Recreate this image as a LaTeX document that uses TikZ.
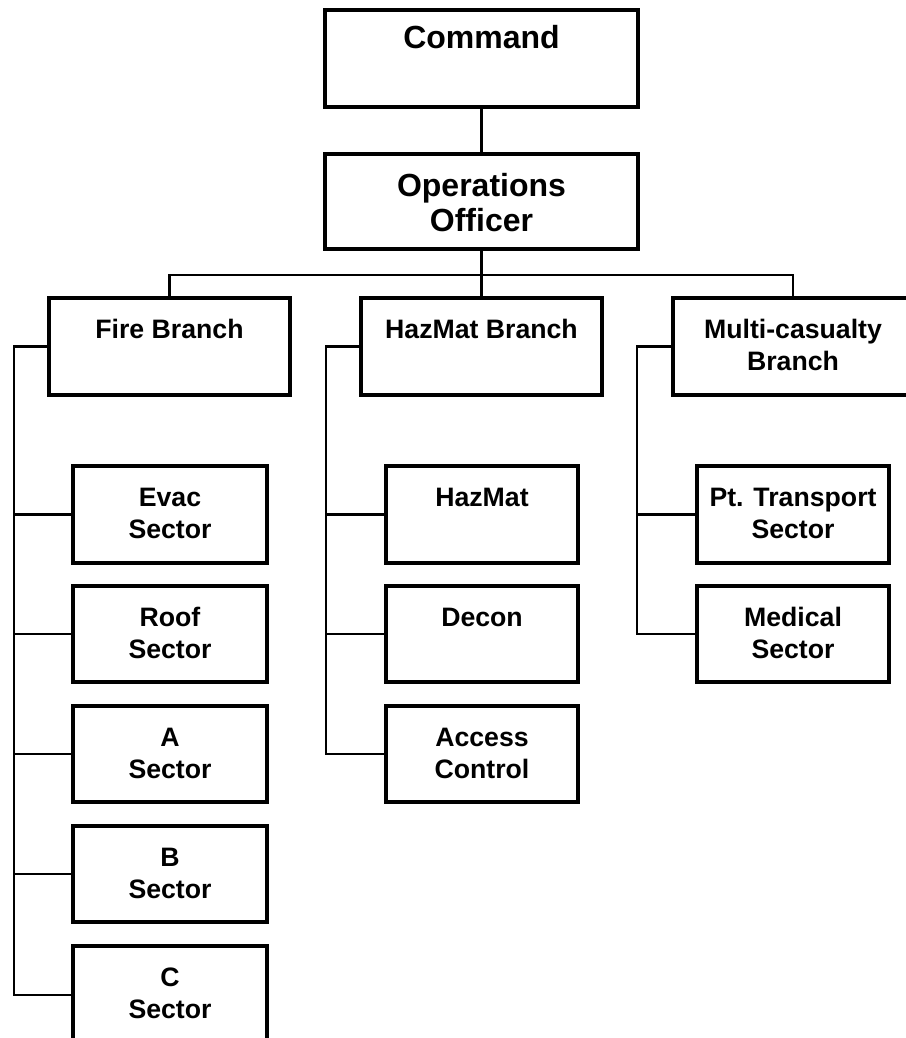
\documentclass[tikz,border=0pt]{standalone}
\usepackage{fontspec}
\setmainfont{Liberation Sans}
\usetikzlibrary{fit}

% box from its left, top, right and bottom edges (in picture units)
\newcommand\orgbox[5]{%
  \node[orgrect, fit={(#2,#3) (#4,#5)}] (#1) {};}

\begin{document}
\begin{tikzpicture}[x=0.75pt, y=-0.75pt,
  orgrect/.style={draw, line width=2.3pt, inner sep=0pt},
  link/.style={draw, line width=2.2pt},
  biglbl/.style={anchor=north, inner sep=0pt, align=center,
    font=\fontsize{24}{26.5}\selectfont\bfseries},
  lbl/.style={anchor=north, inner sep=0pt, align=center,
    font=\fontsize{20}{24}\selectfont\bfseries}]

\useasboundingbox (0,0) rectangle (906,1038);
\clip (0,0) rectangle (906,1038);

% top levels
\orgbox{cmd}{325}{10}{638}{107}
\orgbox{ops}{325}{154}{638}{249}

% branches
\orgbox{fire}{49}{298}{290}{395}
\orgbox{haz}{361}{298}{602}{395}
\orgbox{multi}{673}{298}{913}{395}

% fire sectors
\orgbox{evac}{73}{466}{267}{563}
\orgbox{roof}{73}{586}{267}{682}
\orgbox{asec}{73}{706}{267}{802}
\orgbox{bsec}{73}{826}{267}{922}
\orgbox{csec}{73}{946}{267}{1044}

% hazmat groups
\orgbox{hzm}{386}{466}{578}{563}
\orgbox{decon}{386}{586}{578}{682}
\orgbox{access}{386}{706}{578}{802}

% multi-casualty sectors
\orgbox{ptr}{697}{466}{889}{563}
\orgbox{med}{697}{586}{889}{682}

% labels
\node[biglbl] (cmd-t) at (cmd.north) {\rule{0pt}{29.5pt}Command};
\node[biglbl] (ops-t) at (ops.north) {\rule{0pt}{32.5pt}Operations\\Officer};
\node[lbl] (fire-t) at (fire.north) {\rule{0pt}{31.5pt}Fire Branch};
\node[lbl] (haz-t) at (haz.north) {\rule{0pt}{31.5pt}HazMat Branch};
\node[lbl] (multi-t) at (multi.north) {\rule{0pt}{31.5pt}Multi-casualty\\Branch};
\node[lbl] (evac-t) at (evac.north) {\rule{0pt}{31.5pt}Evac\\Sector};
\node[lbl] (roof-t) at (roof.north) {\rule{0pt}{31.5pt}Roof\\Sector};
\node[lbl] (asec-t) at (asec.north) {\rule{0pt}{31.5pt}A\\Sector};
\node[lbl] (bsec-t) at (bsec.north) {\rule{0pt}{31.5pt}B\\Sector};
\node[lbl] (csec-t) at (csec.north) {\rule{0pt}{31.5pt}C\\Sector};
\node[lbl] (hzm-t) at (hzm.north) {\rule{0pt}{31.5pt}HazMat};
\node[lbl] (decon-t) at (decon.north) {\rule{0pt}{31.5pt}Decon};
\node[lbl] (access-t) at (access.north) {\rule{0pt}{31.5pt}Access\\Control};
\node[lbl] (ptr-t) at (ptr.north) {\rule{0pt}{31.5pt}Pt. Transport\\Sector};
\node[lbl] (med-t) at (med.north) {\rule{0pt}{31.5pt}Medical\\Sector};

% chain of command
\coordinate (bus) at (481.5,275);
\draw[link] (cmd) -- (ops);
\draw[link] (ops.south) -- (bus);
\draw[link] (fire.north) |- (bus) -| (multi.north);
\draw[link] (bus) -- (haz.north);

% trunk lines down to the sectors
\coordinate (ftx) at (14,0);
\coordinate (htx) at (326,0);
\coordinate (mtx) at (637,0);

\draw[link] (fire.west) -- (fire.west -| ftx) |- (csec.west);
\foreach \s in {evac,roof,asec,bsec}
  \draw[link] (\s.west) -- (\s.west -| ftx);

\draw[link] (haz.west) -- (haz.west -| htx) |- (access.west);
\foreach \s in {hzm,decon}
  \draw[link] (\s.west) -- (\s.west -| htx);

\draw[link] (multi.west) -- (multi.west -| mtx) |- (med.west);
\draw[link] (ptr.west) -- (ptr.west -| mtx);
\end{tikzpicture}
\end{document}
